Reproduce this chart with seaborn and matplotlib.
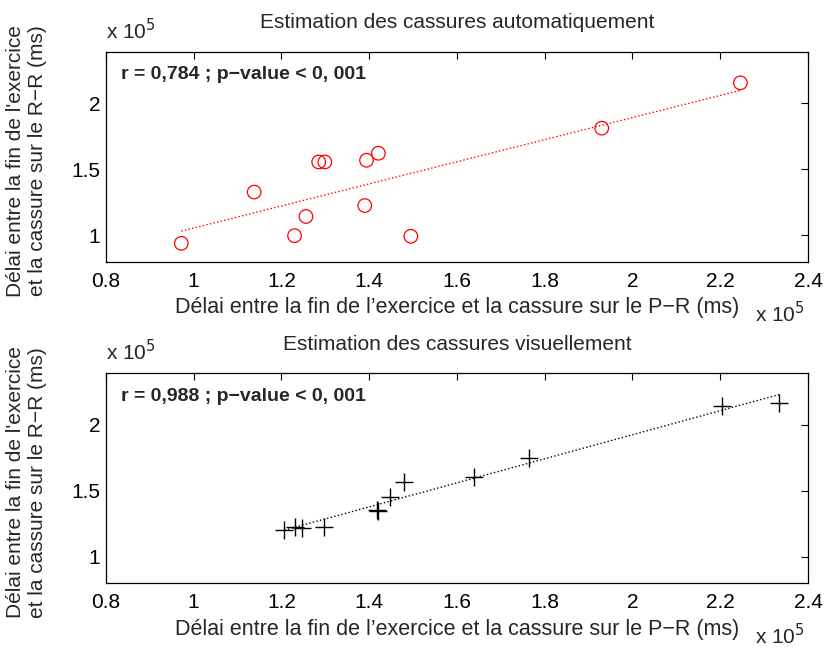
import numpy as np
import matplotlib
matplotlib.use('Agg')
import matplotlib.pyplot as plt
import seaborn as sns

# Délais en ms
pr_auto = [97200, 113800, 123000, 125600, 128500, 129900, 139400, 142100, 139000, 149500, 193000, 224600]
rr_auto = [94000, 132800, 99800, 114300, 155600, 155600, 156900, 162200, 122600, 99300, 181200, 215500]

pr_visu = [120700, 123200, 124600, 129700, 141800, 142000, 144700, 148000, 163800, 176500, 220300, 233500]
rr_visu = [120400, 122900, 121700, 122400, 135800, 134500, 145300, 156400, 160700, 174600, 214400, 216400]

titles = ['Estimation des cassures automatiquement', 'Estimation des cassures visuellement']
stats = ['r = 0,784 ; p\u2212value < 0, 001', 'r = 0,988 ; p\u2212value < 0, 001']
xlabel = "Délai entre la fin de l\u2019exercice et la cassure sur le P\u2212R (ms)"
ylabel = "Délai entre la fin de l'exercice\net la cassure sur le R\u2212R (ms)"
xticks = [0.8, 1, 1.2, 1.4, 1.6, 1.8, 2, 2.2, 2.4]
yticks = [1, 1.5, 2]

sns.set_style('white')
plt.rcParams['font.family'] = ['Liberation Sans', 'DejaVu Sans']

fig = plt.figure(figsize=(8.27, 6.48), dpi=100)
ax1 = fig.add_axes([0.128, 0.596, 0.849, 0.324])
ax2 = fig.add_axes([0.128, 0.100, 0.849, 0.324])

series = [(ax1, pr_auto, rr_auto, 'red'), (ax2, pr_visu, rr_visu, 'black')]
for i, (ax, xs, ys, col) in enumerate(series):
    x = np.array(xs) / 1e5
    y = np.array(ys) / 1e5
    if i == 0:
        sns.scatterplot(x=x, y=y, ax=ax, marker='o', s=95, facecolor='none',
                        edgecolor=col, linewidth=0.9, zorder=3)
    else:
        sns.scatterplot(x=x, y=y, ax=ax, marker='+', s=150, color=col,
                        linewidth=1.0, zorder=3)
    sns.regplot(x=x, y=y, ax=ax, scatter=False, ci=None, truncate=True,
                line_kws=dict(ls=':', color=col, lw=1.0))
    ax.set_xlim(0.8, 2.4)
    ax.set_ylim(0.8, 2.39)
    ax.set_xticks(xticks)
    ax.set_xticklabels([f'{t:g}' for t in xticks])
    ax.set_yticks(yticks)
    ax.set_yticklabels([f'{t:g}' for t in yticks])
    ax.tick_params(direction='in', top=True, right=True, length=5, width=0.8,
                   labelsize=15, colors='black')
    ax.tick_params(axis='x', pad=7)
    ax.tick_params(axis='y', pad=4)
    for sp in ax.spines.values():
        sp.set_color('black')
        sp.set_linewidth(0.9)
    ax.set_title(titles[i], fontsize=15, pad=17)
    ax.set_xlabel(xlabel, fontsize=15.5, va='center')
    ax.xaxis.set_label_coords(0.5, -0.22)
    ax.set_ylabel(ylabel, fontsize=15, va='center')
    ax.yaxis.set_label_coords(-0.113, 0.48)
    ax.text(0.022, 0.89, stats[i], transform=ax.transAxes, fontsize=14,
            fontweight='bold', va='center')
    ax.text(0.0, 1.062, 'x 10$^{5}$', transform=ax.transAxes, fontsize=15,
            va='baseline', ha='left')
    ax.text(0.924, -0.29, 'x 10$^{5}$', transform=ax.transAxes, fontsize=15,
            va='baseline', ha='left')

fig.savefig('out.png', dpi=100)
